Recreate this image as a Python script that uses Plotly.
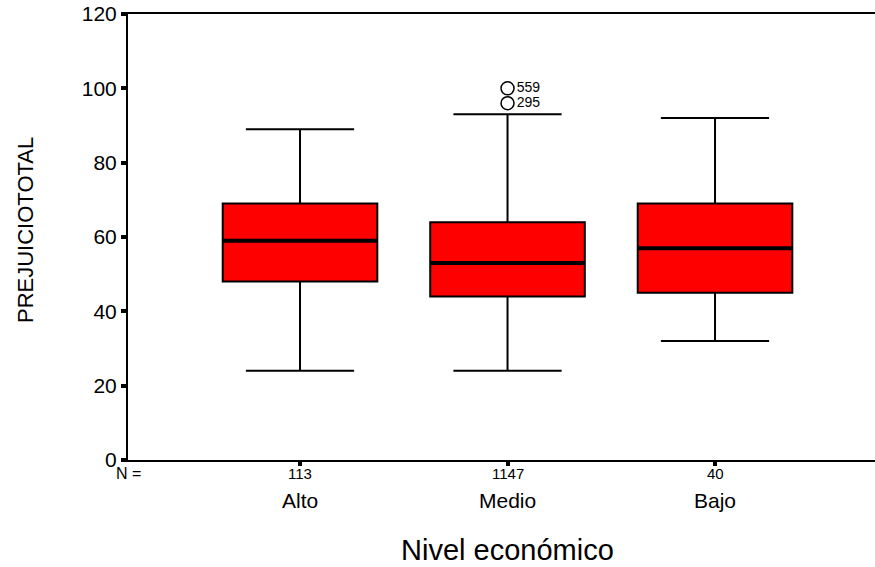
import plotly.graph_objects as go

categories = ["Alto", "Medio", "Bajo"]
n_counts = ["113", "1147", "40"]
lower_whisker = [24, 24, 32]
q1 = [48, 44, 45]
median = [59, 53, 57]
q3 = [69, 64, 69]
upper_whisker = [89, 93, 92]

outlier_cat = [1, 1]
outlier_vals = [100, 96]
outlier_ids = ["559", "295"]

y_ticks = [0, 20, 40, 60, 80, 100, 120]

FONT = "Liberation Sans, Arial, sans-serif"
BOX_W = 0.745
xpos = list(range(len(categories)))

fig = go.Figure()
fig.add_trace(go.Box(
    x=xpos, q1=q1, median=median, q3=q3,
    lowerfence=lower_whisker, upperfence=upper_whisker,
    width=BOX_W, whiskerwidth=0.7,
    fillcolor="#FF0000", line=dict(color="black", width=2),
    boxpoints=False, showlegend=False, hoverinfo="skip",
))

# thicker median lines
for i, m in enumerate(median):
    fig.add_trace(go.Scatter(
        x=[xpos[i] - BOX_W / 2, xpos[i] + BOX_W / 2], y=[m, m],
        mode="lines", line=dict(color="black", width=4),
        showlegend=False, hoverinfo="skip",
    ))

fig.add_trace(go.Scatter(
    x=outlier_cat, y=outlier_vals, mode="markers+text",
    text=outlier_ids, textposition="middle right",
    textfont=dict(family=FONT, size=14, color="black"),
    marker=dict(symbol="circle-open", size=13, color="black", line=dict(width=1.5)),
    showlegend=False, hoverinfo="skip", cliponaxis=False,
))

annotations = []
annotations.append(dict(text="N =", x=0, xref="paper", y=0, yref="paper",
                        yshift=-13, xanchor="center", yanchor="middle",
                        showarrow=False, font=dict(family=FONT, size=16, color="black")))
for i, c in enumerate(categories):
    annotations.append(dict(text=n_counts[i], x=xpos[i], xref="x", y=0, yref="paper",
                            yshift=-13, xanchor="center", yanchor="middle",
                            showarrow=False, font=dict(family=FONT, size=15, color="black")))
    annotations.append(dict(text=c, x=xpos[i], xref="x", y=0, yref="paper",
                            yshift=-40, xanchor="center", yanchor="middle",
                            showarrow=False, font=dict(family=FONT, size=21, color="black")))
annotations.append(dict(text="Nivel económico", x=1, xref="x", y=0, yref="paper",
                        yshift=-90, xanchor="center", yanchor="middle",
                        showarrow=False, font=dict(family=FONT, size=29, color="black")))
annotations.append(dict(text="PREJUICIOTOTAL", x=0, xref="paper", y=0.5, yref="paper",
                        xshift=-103, yshift=7, xanchor="center", yanchor="middle",
                        textangle=-90, showarrow=False,
                        font=dict(family=FONT, size=22, color="black")))

fig.update_layout(
    width=875, height=567,
    margin=dict(l=128, r=0, t=14, b=107),
    plot_bgcolor="white", paper_bgcolor="white",
    annotations=annotations,
    xaxis=dict(range=[-0.829, 2.771], tickvals=xpos, showticklabels=False,
               ticks="outside", ticklen=4, tickwidth=4, tickcolor="black",
               showline=True, linecolor="black", linewidth=2, mirror=True,
               showgrid=False, zeroline=False, fixedrange=True),
    yaxis=dict(range=[0, 120], tickvals=y_ticks, ticks="outside", ticklen=5,
               tickwidth=4, tickcolor="black",
               tickfont=dict(family=FONT, size=21, color="black"),
               showline=True, linecolor="black", linewidth=2,
               showgrid=False, zeroline=False, fixedrange=True),
)

fig.write_html(
    "out.html",
    config={"displayModeBar": False, "staticPlot": True},
    post_script="document.body.style.margin='0';document.body.style.overflow='hidden';",
)
